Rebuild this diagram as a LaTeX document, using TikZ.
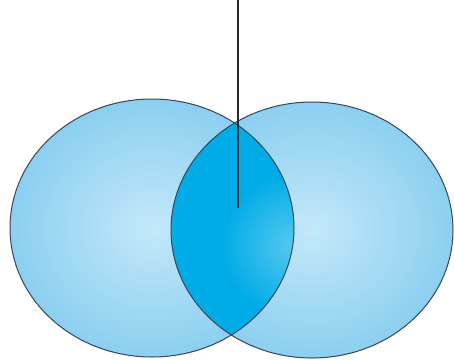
\documentclass[tikz,border=0pt]{standalone}
\usepackage{xcolor}
\usepackage{tikz}
\usetikzlibrary{calc}
\definecolor{setrim}{RGB}{55,70,88}
\definecolor{setouter}{RGB}{140,207,240}
\definecolor{setinner}{RGB}{195,232,249}
\definecolor{lensblue}{RGB}{0,172,230}
\definecolor{lenslight}{RGB}{85,200,240}
\definecolor{pointer}{RGB}{40,40,50}

\begin{document}
\begin{tikzpicture}[x=1pt, y=-1pt]
\useasboundingbox (0,0) rectangle (454,359);
% Left set
\shade[inner color=setinner, outer color=setouter] (152,228) ellipse [x radius=142, y radius=129];
% Right set
\shade[inner color=setinner, outer color=setouter] (312,230) ellipse [x radius=141, y radius=128];
% Overlap
\begin{scope}
  \clip (152,228) ellipse [x radius=142, y radius=129];
  \clip (312,230) ellipse [x radius=141, y radius=128];
  \fill[lensblue] (170,90) rectangle (300,359);
  \shade[inner color=lenslight, outer color=lensblue] (292,245) circle (70);
\end{scope}
% Outlines
\draw[setrim, line width=1pt] (152,228) ellipse [x radius=142, y radius=129];
\draw[setrim, line width=1pt] (312,230) ellipse [x radius=141, y radius=128];
% Pointer
\coordinate (top) at (238,0);
\coordinate (lens) at (238,208);
\draw[pointer, line width=1.1pt] (top) -- (lens);
\end{tikzpicture}
\end{document}
